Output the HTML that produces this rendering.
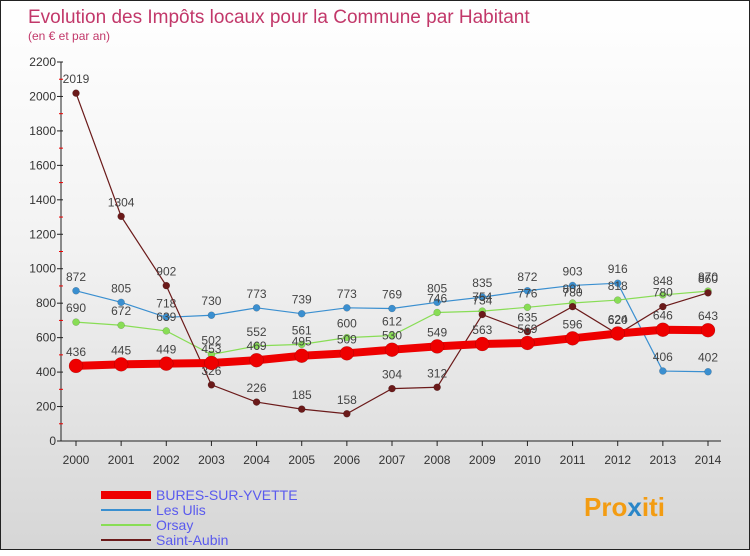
<!DOCTYPE html>
<html><head><meta charset="utf-8"><style>
body{margin:0;width:750px;height:550px;overflow:hidden;font-family:"Liberation Sans",sans-serif}
#c{position:absolute;left:0;top:0;width:748px;height:548px;border:1px solid #222;background:linear-gradient(#fff 0%,#f2f2f2 45%,#d6d6d6 100%)}
</style></head><body>
<div id="c">
<svg id="s" width="750" height="550" xmlns="http://www.w3.org/2000/svg" font-family="Liberation Sans, sans-serif">
<text x="27" y="22" font-size="19" fill="#c2386a">Evolution des Impôts locaux pour la Commune par Habitant</text>
<text x="27" y="39" font-size="12" fill="#c2386a">(en € et par an)</text>
<g id="axes"></g><g id="series"></g><g id="legend"></g>
<text x="583" y="515" font-size="26" font-weight="bold" fill="#f39c12">Pro<tspan fill="#2a86c8">x</tspan>iti</text>
</svg></div>
<script>
const years=[2000,2001,2002,2003,2004,2005,2006,2007,2008,2009,2010,2011,2012,2013,2014];
const yTicks=[0,200,400,600,800,1000,1200,1400,1600,1800,2000,2200];
const bures=[436,445,449,453,469,495,509,530,549,563,569,596,624,646,643];
const ulis=[872,805,718,730,773,739,773,769,805,835,872,903,916,406,402];
const orsay=[690,672,639,502,552,561,600,612,746,754,776,801,818,848,870];
const aubin=[2019,1304,902,326,226,185,158,304,312,734,635,780,620,780,860];
const NS="http://www.w3.org/2000/svg";
const X=i=>75+i*(632/14), Y=v=>440-v*(379/2200);
function mk(tag,attrs,parent,txt){const e=document.createElementNS(NS,tag);for(const k in attrs)e.setAttribute(k,attrs[k]);if(txt!==undefined)e.textContent=txt;parent.appendChild(e);return e;}
const ax=document.getElementById('axes');
let e=mk('line',{x1:60,y1:Y(2200),x2:60,y2:440,stroke:'#222'},ax);


e=mk('line',{x1:60,y1:440,x2:720,y2:440,stroke:'#222'},ax);


yTicks.forEach(v=>{
  mk('line',{x1:56,y1:Y(v),x2:62,y2:Y(v),stroke:'#222'},ax);
  if(v<2200) mk('line',{x1:58,y1:Y(v+100),x2:62,y2:Y(v+100),stroke:'#e00'},ax);
  const t=mk('text',{x:55,y:Y(v)+4,'text-anchor':'end','font-size':12,fill:'#333'},ax,v);
  
  
});
years.forEach((y,i)=>{
  mk('line',{x1:X(i),y1:440,x2:X(i),y2:445,stroke:'#222'},ax);
  const t=mk('text',{x:X(i),y:463,'text-anchor':'middle','font-size':12,fill:'#333'},ax,y);
  
  
});
const sg=document.getElementById('series');
function draw(vals,color,lw,r,name,labels){
  const g=mk('g',{},sg);
  
  
  const pl=mk('polyline',{points:vals.map((v,i)=>X(i)+','+Y(v)).join(' '),fill:'none',stroke:color,'stroke-width':lw},g);
  
  
  vals.forEach((v,i)=>{
    const c=mk('circle',{cx:X(i),cy:Y(v),r:r,fill:color,stroke:'rgba(0,0,0,0.25)','stroke-width':0.5},g);
    
    
    const t=mk('text',{x:X(i),y:Y(v)-10,'text-anchor':'middle','font-size':12,fill:'#444'},g,v);
    
    
  });
}
draw(ulis,'#3a8fd0',1.2,3.5,'les-ulis');
draw(orsay,'#88dd55',1.2,3.5,'orsay');
draw(aubin,'#6b1a1a',1.2,3.5,'saint-aubin');
draw(bures,'#ee0000',8,7,'bures');
const lg=document.getElementById('legend');
const items=[['BURES-SUR-YVETTE','#ee0000',8],['Les Ulis','#3a8fd0',2],['Orsay','#88dd55',2],['Saint-Aubin','#6b1a1a',2]];
items.forEach((it,i)=>{
  const y=494+i*15;
  const g=mk('g',{},lg);
  
  
  mk('line',{x1:100,y1:y,x2:150,y2:y,stroke:it[1],'stroke-width':it[2]},g);
  mk('text',{x:155,y:y+5,'font-size':14,fill:'#5a5aee'},g,it[0]);
});
</script>
</body></html>
